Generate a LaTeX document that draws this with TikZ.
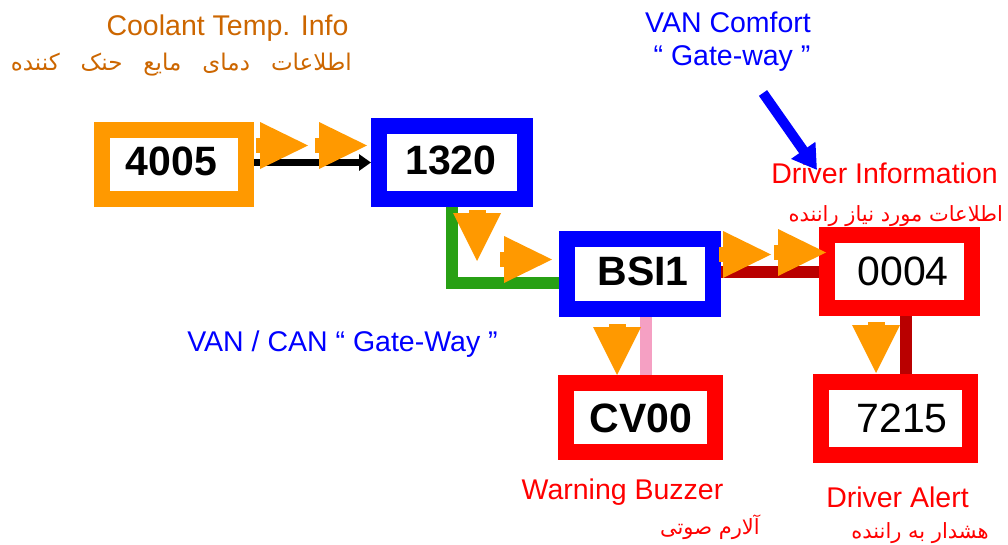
\documentclass[tikz,border=0pt]{standalone}
\usepackage{fontspec}
\setmainfont{Liberation Sans}
\newfontfamily\fa[Script=Arabic]{DejaVu Sans}
\TeXXeTstate=1
\usetikzlibrary{arrows.meta}
\definecolor{orA}{RGB}{255,153,0}
\definecolor{orT}{RGB}{204,102,0}
\definecolor{blA}{RGB}{0,0,255}
\definecolor{rdA}{RGB}{255,0,0}
\definecolor{drA}{RGB}{185,0,0}
\definecolor{grA}{RGB}{40,160,20}
\definecolor{pkA}{RGB}{245,160,195}
\pgfdeclarelayer{bg}
\pgfsetlayers{bg,main}
\begin{document}
\begin{tikzpicture}[x=1pt,y=-1pt,
  boxn/.style={draw=#1, line width=16pt, fill=white, inner sep=0pt},
  lbl/.style={font=\fontsize{41}{41}\selectfont\bfseries, inner sep=0pt},
  lbln/.style={font=\fontsize{41}{41}\selectfont, inner sep=0pt},
  eng/.style={font=\fontsize{28.5}{30}\selectfont, text=#1, inner sep=0pt, anchor=base},
  per/.style={font=\fa\fontsize{21}{22}\selectfont, text=#1, inner sep=0pt, anchor=base east},
  busline/.style={line width=12pt, draw=#1},
  rarr/.pic={\fill[orA] (0,0) -- (-48,-23.5) -- (-48,23.5) -- cycle;
             \fill[orA] (-52,-7.5) rectangle (-44,7.5);},
  darr/.pic={\fill[orA] (0,0) -- (-24,-48) -- (24,-48) -- cycle;
             \fill[orA] (-8.5,-51) rectangle (8.5,-44);}
]
\useasboundingbox (0,0) rectangle (1008,544);

% boxes
\node[boxn=orA, minimum width=144pt, minimum height=69pt] (n4005) at (174,164.5) {};
\node[boxn=blA, minimum width=146pt, minimum height=73pt] (n1320) at (452,162.5) {};
\node[boxn=blA, minimum width=146pt, minimum height=70pt] (nbsi) at (640,274) {};
\node[boxn=rdA, minimum width=145pt, minimum height=73pt] (n0004) at (899.5,271.5) {};
\node[boxn=rdA, minimum width=149pt, minimum height=69pt] (ncv) at (640.5,417.5) {};
\node[boxn=rdA, minimum width=149pt, minimum height=73pt] (n7215) at (895.5,418.5) {};

\node[lbl] (t4005) at (171.5,161) {4005};
\node[lbl] (t1320) at (451,160.5) {1320};
\node[lbl] (tbsi) at (643,271.5) {BSI1};
\node[lbln] (t0004) at (903,271) {0004};
\node[lbl] (tcv) at (641,418) {CV00};
\node[lbln] (t7215) at (902,418.5) {7215};

% connectors
\begin{pgfonlayer}{bg}
\draw[line width=7pt, -{Triangle[length=12pt,width=16pt]}] (n4005.east |- n1320.west) -- (n1320.west);
\draw[busline=grA] (n1320.south -| 451.5,0) |- (nbsi.west |- 0,282.5);
\draw[busline=drA] (nbsi.east |- n0004.west) -- (n0004.west);
\draw[busline=pkA] (nbsi.south -| 646,0) -- (ncv.north -| 646,0);
\draw[busline=drA] (n0004.south -| 906,0) -- (n7215.north -| 906,0);
\end{pgfonlayer}

% orange flow arrows
\pic at (308,145.5) {rarr};
\pic at (367,145.5) {rarr};
\pic at (477,261) {darr};
\pic at (552,259.5) {rarr};
\pic at (617,375) {darr};
\pic at (771,254.5) {rarr};
\pic at (826,252.5) {rarr};
\pic at (876,373) {darr};

% texts
\node[eng=orT] (tcool) at (227.5,35) {Coolant Temp. Info};
\node[per=orT, font=\fa\fontsize{23}{24}\selectfont] (pcool) at (352,70) {\beginR اطلاعات\hspace{21pt}دمای\hspace{21pt}مایع\hspace{21pt}حنک\hspace{21pt}کننده\endR};
\node[eng=blA] (tvan1) at (728,32) {VAN Comfort};
\node[eng=blA] (tvan2) at (732,65) {“ Gate-way ”};
\node[eng=rdA] (tdrv) at (884.5,183) {Driver Information};
\node[per=rdA] (pdrv) at (1003,221) {\beginR اطلاعات مورد نیاز راننده\endR};
\node[eng=blA] (tgw) at (342.5,351) {VAN / CAN “ Gate-Way ”};
\node[eng=rdA] (twarn) at (622.5,499) {Warning Buzzer};
\node[per=rdA] (pwarn) at (760,534) {\beginR آلارم صوتی\endR};
\node[eng=rdA] (talert) at (897.5,507) {Driver Alert};
\node[per=rdA] (palert) at (989,538) {\beginR هشدار به راننده\endR};

% blue pointer arrow
\coordinate (vs) at (763,93);
\coordinate (ve) at (817,170);
\draw[blA, line width=10pt, -{Triangle[length=24pt,width=28pt]}] (vs) -- (ve);
\end{tikzpicture}
\end{document}
